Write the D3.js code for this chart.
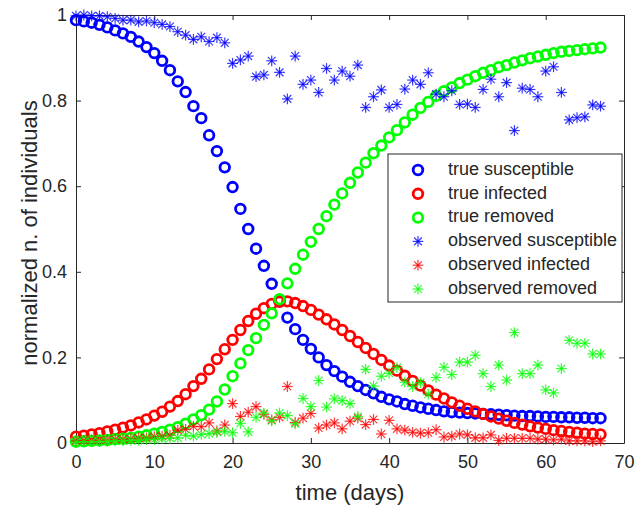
<!DOCTYPE html>
<html>
<head>
<meta charset="utf-8">
<script src="https://cdn.jsdelivr.net/npm/d3@7"></script>
<style>
  body { margin: 0; background: #fff; }
  svg text { font-family: "Liberation Sans", Arial, Helvetica, sans-serif; fill: #262626; }
</style>
</head>
<body>
<svg id="chart" width="644" height="507"></svg>
<script>
// SIR model, daily values (day 0 .. 67), normalized by population
const trueSusceptible = [
  0.988, 0.985, 0.982, 0.977, 0.971, 0.964, 0.957, 0.949, 0.938, 0.925,
  0.911, 0.893, 0.871, 0.845, 0.820, 0.787, 0.759, 0.719, 0.682, 0.644,
  0.598, 0.547, 0.500, 0.454, 0.414, 0.372, 0.332, 0.293, 0.266, 0.241,
  0.220, 0.200, 0.182, 0.168, 0.155, 0.143, 0.133, 0.124, 0.116, 0.108,
  0.102, 0.097, 0.091, 0.087, 0.083, 0.080, 0.077, 0.074, 0.072, 0.071,
  0.070, 0.069, 0.068, 0.067, 0.066, 0.065, 0.064, 0.063, 0.063, 0.062,
  0.061, 0.061, 0.060, 0.060, 0.059, 0.059, 0.058, 0.058
];
const trueInfected = [
  0.015, 0.017, 0.020, 0.023, 0.027, 0.031, 0.036, 0.041, 0.048, 0.055,
  0.064, 0.073, 0.085, 0.098, 0.114, 0.133, 0.150, 0.172, 0.196, 0.219,
  0.241, 0.264, 0.285, 0.302, 0.315, 0.325, 0.330, 0.331, 0.327, 0.320,
  0.311, 0.300, 0.289, 0.277, 0.264, 0.250, 0.236, 0.222, 0.208, 0.194,
  0.181, 0.169, 0.157, 0.145, 0.134, 0.123, 0.113, 0.104, 0.095, 0.087,
  0.080, 0.074, 0.068, 0.062, 0.057, 0.052, 0.047, 0.043, 0.039, 0.036,
  0.033, 0.030, 0.028, 0.026, 0.024, 0.022, 0.021, 0.020
];
const trueRemoved = [
  0.003, 0.004, 0.005, 0.006, 0.007, 0.009, 0.010, 0.012, 0.015, 0.018,
  0.022, 0.026, 0.031, 0.037, 0.045, 0.055, 0.065, 0.078, 0.097, 0.125,
  0.156, 0.186, 0.217, 0.245, 0.276, 0.303, 0.336, 0.373, 0.407, 0.440,
  0.470, 0.500, 0.530, 0.557, 0.583, 0.608, 0.632, 0.655, 0.677, 0.695,
  0.714, 0.731, 0.749, 0.767, 0.783, 0.797, 0.811, 0.822, 0.831, 0.841,
  0.849, 0.857, 0.865, 0.871, 0.878, 0.883, 0.889, 0.894, 0.899, 0.903,
  0.907, 0.911, 0.914, 0.916, 0.918, 0.920, 0.922, 0.924
];
const observedSusceptible = [
  0.998, 1.000, 0.998, 0.998, 0.996, 0.992, 0.988, 0.988, 0.984, 0.986,
  0.982, 0.978, 0.973, 0.961, 0.953, 0.943, 0.949, 0.938, 0.947, 0.935,
  0.887, 0.895, 0.904, 0.856, 0.860, 0.893, 0.866, 0.804, 0.904, 0.838,
  0.848, 0.819, 0.875, 0.848, 0.869, 0.857, 0.883, 0.784, 0.809, 0.825,
  0.784, 0.791, 0.827, 0.848, 0.838, 0.865, 0.815, 0.809, 0.823, 0.791,
  0.792, 0.784, 0.826, 0.850, 0.809, 0.842, 0.730, 0.829, 0.826, 0.809,
  0.869, 0.879, 0.819, 0.755, 0.760, 0.762, 0.790, 0.787
];
const observedInfected = [
  0.005, 0.006, 0.007, 0.006, 0.007, 0.009, 0.009, 0.010, 0.012, 0.012,
  0.015, 0.016, 0.018, 0.030, 0.032, 0.039, 0.038, 0.047, 0.028, 0.042,
  0.092, 0.062, 0.072, 0.085, 0.067, 0.054, 0.060, 0.132, 0.048, 0.058,
  0.069, 0.035, 0.042, 0.047, 0.033, 0.051, 0.058, 0.043, 0.055, 0.021,
  0.053, 0.033, 0.030, 0.025, 0.023, 0.024, 0.031, 0.014, 0.016, 0.021,
  0.019, 0.012, 0.012, 0.019, 0.006, 0.011, 0.011, 0.011, 0.011, 0.009,
  0.009, 0.007, 0.009, 0.005, 0.005, 0.005, 0.003, 0.005
];
const observedRemoved = [
  0.002, 0.003, 0.003, 0.004, 0.004, 0.005, 0.005, 0.006, 0.006, 0.008,
  0.008, 0.010, 0.011, 0.012, 0.018, 0.016, 0.020, 0.022, 0.025, 0.027,
  0.024, 0.046, 0.026, 0.060, 0.070, 0.052, 0.070, 0.064, 0.045, 0.104,
  0.085, 0.146, 0.084, 0.103, 0.099, 0.092, 0.062, 0.172, 0.133, 0.156,
  0.163, 0.176, 0.142, 0.132, 0.141, 0.114, 0.153, 0.177, 0.160, 0.189,
  0.189, 0.205, 0.162, 0.132, 0.182, 0.147, 0.258, 0.162, 0.162, 0.182,
  0.124, 0.117, 0.174, 0.240, 0.233, 0.233, 0.208, 0.208
];

const xTicks = [0, 10, 20, 30, 40, 50, 60, 70];
const yTicks = [0, 0.2, 0.4, 0.6, 0.8, 1];

const seriesNames = [
  "true susceptible", "true infected", "true removed",
  "observed susceptible", "observed infected", "observed removed"
];
const seriesColors = ["#0000ff", "#ff0000", "#00ff00", "#0000ff", "#ff0000", "#00ff00"];
const seriesMarkers = ["o", "o", "o", "*", "*", "*"];
const seriesValues = [
  trueSusceptible, trueInfected, trueRemoved,
  observedSusceptible, observedInfected, observedRemoved
];

const svg = d3.select("#chart");
const margin = { left: 76, right: 20, top: 15, bottom: 64 };
const W = 644, H = 507;
const axisColor = "#262626";

const x = d3.scaleLinear().domain([0, 70]).range([margin.left, W - margin.right]);
const y = d3.scaleLinear().domain([0, 1]).range([H - margin.bottom, margin.top]);

// axes with inward ticks (bottom/left labelled, top/right tick only)
const tickLen = 5;
const fmtY = d => d === 0 ? "0" : d === 1 ? "1" : d3.format(".1f")(d);

const gx = svg.append("g").attr("transform", `translate(0,${y(0)})`)
  .call(d3.axisBottom(x).tickValues(xTicks).tickSizeInner(-tickLen).tickSizeOuter(0).tickPadding(12));
const gy = svg.append("g").attr("transform", `translate(${x(0)},0)`)
  .call(d3.axisLeft(y).tickValues(yTicks).tickFormat(fmtY).tickSizeInner(-tickLen).tickSizeOuter(0).tickPadding(9));
const gxt = svg.append("g").attr("transform", `translate(0,${y(1)})`)
  .call(d3.axisTop(x).tickValues(xTicks).tickSizeInner(-tickLen).tickSizeOuter(0).tickFormat(""));
const gyr = svg.append("g").attr("transform", `translate(${x(70)},0)`)
  .call(d3.axisRight(y).tickValues(yTicks).tickSizeInner(-tickLen).tickSizeOuter(0).tickFormat(""));

[gx, gy, gxt, gyr].forEach(g => {
  g.select(".domain").attr("stroke", axisColor).attr("stroke-width", 1);
  g.selectAll(".tick line").attr("stroke", axisColor).attr("stroke-width", 1);
  g.selectAll(".tick text").attr("font-size", 18).attr("fill", axisColor)
    .style("font-family", '"Liberation Sans", Arial, sans-serif');
});

// axis titles
svg.append("text")
  .attr("x", (x(0) + x(70)) / 2).attr("y", 494)
  .attr("text-anchor", "middle").attr("dominant-baseline", "middle")
  .attr("font-size", 22)
  .text("time (days)");
svg.append("text")
  .attr("transform", `translate(31,${(y(0) + y(1)) / 2 + 4}) rotate(-90)`)
  .attr("text-anchor", "middle").attr("dominant-baseline", "middle")
  .attr("font-size", 22)
  .text("normalized n. of individuals");

// marker drawing helpers
const circleR = 4.8, circleW = 2.8, starR = 5.4;
function drawCircle(g, cx, cy, color) {
  g.append("circle").attr("cx", cx).attr("cy", cy).attr("r", circleR)
    .attr("fill", "none").attr("stroke", color).attr("stroke-width", circleW);
}
function drawStar(g, cx, cy, color) {
  const k = starR * 0.72;
  const segs = [
    [-starR, 0, starR, 0], [0, -starR, 0, starR],
    [-k, -k, k, k], [-k, k, k, -k]
  ];
  segs.forEach(s => g.append("line")
    .attr("x1", cx + s[0]).attr("y1", cy + s[1])
    .attr("x2", cx + s[2]).attr("y2", cy + s[3])
    .attr("stroke", color).attr("stroke-width", 1.2).attr("stroke-opacity", 0.78));
}

const plot = svg.append("g");
seriesValues.forEach((vals, si) => {
  const g = plot.append("g");
  vals.forEach((v, day) => {
    if (seriesMarkers[si] === "o") drawCircle(g, x(day), y(v), seriesColors[si]);
    else drawStar(g, x(day), y(v), seriesColors[si]);
  });
});

// legend
const lg = svg.append("g");
const lx0 = 388, ly0 = 154, lw = 234, lh = 148;
lg.append("rect").attr("x", lx0).attr("y", ly0).attr("width", lw).attr("height", lh)
  .attr("fill", "#fff").attr("stroke", axisColor).attr("stroke-width", 1);
seriesNames.forEach((name, i) => {
  const cy = 170 + i * 23.8;
  if (seriesMarkers[i] === "o") drawCircle(lg, 418, cy, seriesColors[i]);
  else drawStar(lg, 418, cy, seriesColors[i]);
  lg.append("text").attr("x", 448).attr("y", cy)
    .attr("dominant-baseline", "middle").attr("font-size", 18)
    .text(name);
});
</script>
</body>
</html>
